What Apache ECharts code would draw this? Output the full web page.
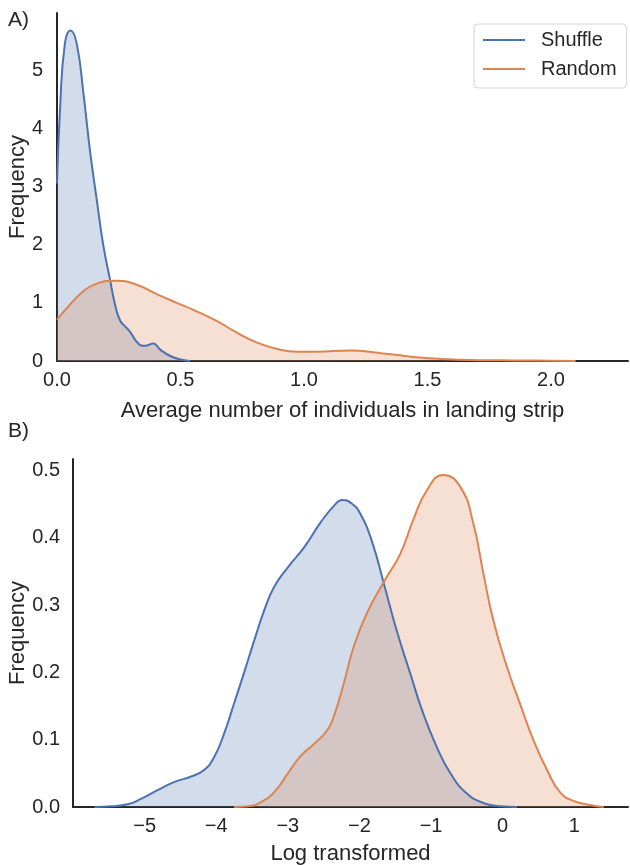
<!DOCTYPE html>
<html>
<head>
<meta charset="utf-8">
<script src="https://cdn.jsdelivr.net/npm/echarts@6/dist/echarts.min.js"></script>
<style>
  html, body { margin: 0; padding: 0; background: #fff; }
  #chart { width: 630px; height: 865px; }
</style>
</head>
<body>
<div id="chart"></div>
<script>
// panel A: average number of individuals in landing strip
const shuffleAX = [0, 0.012, 0.032, 0.055, 0.080, 0.107, 0.134, 0.161, 0.187, 0.215, 0.235, 0.255, 0.275, 0.296, 0.329, 0.356, 0.39, 0.417, 0.457, 0.505, 0.54];
const shuffleAY = [3.05, 4.3, 5.46, 5.68, 5.45, 4.6, 3.6, 2.77, 2.0, 1.39, 0.97, 0.70, 0.60, 0.50, 0.30, 0.26, 0.30, 0.20, 0.09, 0.02, 0];
const randomAX = [0, 0.053, 0.107, 0.161, 0.242, 0.323, 0.404, 0.485, 0.552, 0.646, 0.727, 0.808, 0.889, 0.970, 1.05, 1.19, 1.30, 1.39, 1.44, 1.58, 1.71, 1.85, 2.01, 2.1];
const randomAY = [0.71, 0.97, 1.20, 1.33, 1.38, 1.31, 1.15, 1.0, 0.88, 0.69, 0.49, 0.32, 0.21, 0.16, 0.16, 0.18, 0.14, 0.10, 0.07, 0.03, 0.015, 0.01, 0.005, 0];

// panel B: log transformed
const shuffleBX = [-5.7, -5.47, -5.24, -5.05, -4.82, -4.59, -4.36, -4.17, -4.03, -3.89, -3.75, -3.61, -3.47, -3.33, -3.19, -3.0, -2.77, -2.54, -2.35, -2.24, -2.10, -1.99, -1.83, -1.66, -1.48, -1.29, -1.11, -0.92, -0.73, -0.50, -0.27, -0.03, 0.2];
const shuffleBY = [0, 0.001, 0.004, 0.012, 0.025, 0.037, 0.045, 0.055, 0.074, 0.109, 0.154, 0.20, 0.247, 0.292, 0.327, 0.356, 0.386, 0.423, 0.448, 0.456, 0.450, 0.436, 0.396, 0.332, 0.262, 0.198, 0.139, 0.089, 0.05, 0.02, 0.006, 0.001, 0];
const randomBX = [-3.75, -3.56, -3.38, -3.19, -3.0, -2.82, -2.63, -2.45, -2.36, -2.22, -2.08, -1.90, -1.65, -1.43, -1.25, -1.06, -0.83, -0.59, -0.41, -0.27, -0.13, 0.06, 0.24, 0.43, 0.62, 0.80, 0.99, 1.22, 1.41];
const randomBY = [0, 0.001, 0.007, 0.022, 0.05, 0.076, 0.094, 0.114, 0.134, 0.183, 0.238, 0.287, 0.336, 0.376, 0.426, 0.47, 0.493, 0.475, 0.421, 0.347, 0.277, 0.208, 0.154, 0.099, 0.055, 0.022, 0.009, 0.003, 0];

const seriesNames = ['Shuffle', 'Random'];
const ticksAX = [0, 0.5, 1.0, 1.5, 2.0];
const ticksBX = [-5, -4, -3, -2, -1, 0, 1];

const BLUE = '#4C72B0';
const ORANGE = '#DD8452';
const INK = '#262626';
const FONT = '"Liberation Sans", Arial, sans-serif';

const zip = (xs, ys) => xs.map((x, i) => [x, ys[i]]);
const onTick = (v, list) => list.some(t => Math.abs(t - v) < 1e-6);

function kde(name, color, data, idx) {
  return {
    name: name,
    type: 'line',
    xAxisIndex: idx,
    yAxisIndex: idx,
    data: data,
    smooth: 0.5,
    symbol: 'none',
    lineStyle: { color: color, width: 2 },
    itemStyle: { color: color },
    areaStyle: { color: color, opacity: 0.25 }
  };
}

function baseAxis() {
  return {
    type: 'value',
    axisLine: { show: true, onZero: false, lineStyle: { color: INK, width: 2 } },
    axisTick: { show: false },
    splitLine: { show: false },
    nameTextStyle: { color: INK, fontSize: 22, fontFamily: FONT },
    axisLabel: { color: INK, fontSize: 20, fontFamily: FONT }
  };
}

const chart = echarts.init(document.getElementById('chart'), null, { renderer: 'canvas' });

const xA = baseAxis();
Object.assign(xA, {
  gridIndex: 0, min: 0, max: 2.312, interval: 0.5,
  name: 'Average number of individuals in landing strip',
  nameLocation: 'middle', nameGap: 39
});
xA.axisLabel = Object.assign({}, xA.axisLabel, {
  margin: 9, showMaxLabel: false,
  formatter: v => onTick(v, ticksAX) ? v.toFixed(1) : ''
});

const yA = baseAxis();
Object.assign(yA, {
  gridIndex: 0, min: 0, max: 5.98, interval: 1,
  name: 'Frequency', nameLocation: 'middle', nameRotate: 90, nameGap: 28,
  nameMoveOverlap: false
});
yA.axisLabel = Object.assign({}, yA.axisLabel, {
  margin: 14, showMaxLabel: false,
  formatter: v => Number.isInteger(v) ? String(v) : ''
});

const xB = baseAxis();
Object.assign(xB, {
  gridIndex: 1, min: -6, max: 1.75, interval: 1,
  name: 'Log transformed', nameLocation: 'middle', nameGap: 36
});
xB.axisLabel = Object.assign({}, xB.axisLabel, {
  margin: 9, showMinLabel: false, showMaxLabel: false,
  formatter: v => onTick(v, ticksBX) ? (v < 0 ? '\u2212' + Math.abs(v) : String(v)) : ''
});

const yB = baseAxis();
Object.assign(yB, {
  gridIndex: 1, min: 0, max: 0.5168, interval: 0.1,
  name: 'Frequency', nameLocation: 'middle', nameRotate: 90, nameGap: 44,
  nameMoveOverlap: false
});
yB.axisLabel = Object.assign({}, yB.axisLabel, {
  margin: 13, showMaxLabel: false,
  formatter: v => v.toFixed(1)
});

chart.setOption({
  animation: false,
  backgroundColor: '#ffffff',
  title: [
    { text: 'A)', left: 8, top: 10, padding: 0, textStyle: { color: INK, fontSize: 21, fontWeight: 'normal', fontFamily: FONT } },
    { text: 'B)', left: 8, top: 421, padding: 0, textStyle: { color: INK, fontSize: 21, fontWeight: 'normal', fontFamily: FONT } }
  ],
  legend: {
    data: seriesNames,
    orient: 'vertical',
    left: 474,
    top: 24,
    itemWidth: 42,
    itemHeight: 20,
    itemGap: 9,
    padding: [6, 10, 9, 8],
    backgroundColor: '#ffffff',
    borderColor: '#d6d6d6',
    borderWidth: 1,
    borderRadius: 4,
    itemStyle: { opacity: 0 },
    lineStyle: { width: 2 },
    textStyle: { color: INK, fontSize: 20, fontFamily: FONT, padding: [0, 0, 0, 11] }
  },
  grid: [
    { left: 57, top: 13, width: 571, height: 348, outerBoundsMode: 'none' },
    { left: 73, top: 459, width: 555, height: 348, outerBoundsMode: 'none' }
  ],
  xAxis: [xA, xB],
  yAxis: [yA, yB],
  series: [
    kde(seriesNames[0], BLUE, zip(shuffleAX, shuffleAY), 0),
    kde(seriesNames[1], ORANGE, zip(randomAX, randomAY), 0),
    kde(seriesNames[0], BLUE, zip(shuffleBX, shuffleBY), 1),
    kde(seriesNames[1], ORANGE, zip(randomBX, randomBY), 1)
  ]
});
</script>
</body>
</html>
